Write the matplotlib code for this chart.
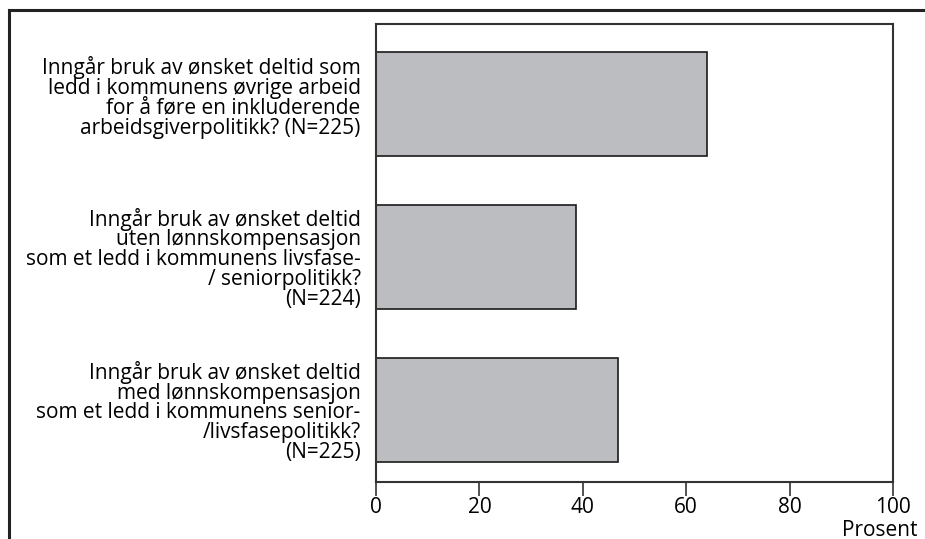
import matplotlib.pyplot as plt
from matplotlib.lines import Line2D
from matplotlib.transforms import ScaledTranslation

plt.rcParams['font.family'] = ['Open Sans', 'DejaVu Sans']

# questions, top to bottom
labels = ["Inngår bruk av ønsket deltid som\nledd i kommunens øvrige arbeid\nfor å føre en inkluderende\narbeidsgiverpolitikk? (N=225)",
          "Inngår bruk av ønsket deltid\nuten lønnskompensasjon\nsom et ledd i kommunens livsfase-\n/ seniorpolitikk?\n(N=224)",
          "Inngår bruk av ønsket deltid\nmed lønnskompensasjon\nsom et ledd i kommunens senior-\n/livsfasepolitikk?\n(N=225)"]
values = [64, 38.7, 46.8]
xticks = [0, 20, 40, 60, 80, 100]

fig = plt.figure(figsize=(9.25, 5.39), dpi=100)
# axes box: x 376..893, y 24..482 (pixels)
ax = fig.add_axes([376/925, 1 - 482/539, 517/925, 458/539])

pos = list(range(len(values)))[::-1]
ax.barh(pos, values, height=0.68, color='#bcbdc0', edgecolor='#1a1a1a', linewidth=1.2)

ax.set_xlim(0, 100)
ax.set_ylim(-0.47, 2.52)
ax.set_xticks(xticks)
ax.set_xticklabels([str(t) for t in xticks], fontsize=15)
ax.set_yticks(pos)
ax.set_yticklabels(labels, fontsize=15, linespacing=0.92)
ax.tick_params(axis='y', length=0, pad=11)
ax.tick_params(axis='x', direction='out', length=10, width=1.2, color='#333333', pad=1)
for s in ax.spines.values():
    s.set_color('#333333')
    s.set_linewidth(1.5)

# first question sits a little above its bar in the original
top = ax.get_yticklabels()[0]
top.set_transform(top.get_transform() + ScaledTranslation(0, 0.08, fig.dpi_scale_trans))

fig.text(918/925, 1 - 530/539, "Prosent", ha='right', va='center', fontsize=15)

# outer frame (top and left)
fig.add_artist(Line2D([9/925, 1], [1 - 10/539, 1 - 10/539], color='#222222', lw=2.2))
fig.add_artist(Line2D([9/925, 9/925], [0, 1 - 10/539], color='#222222', lw=2.2))

fig.savefig('out.png', dpi=100)
